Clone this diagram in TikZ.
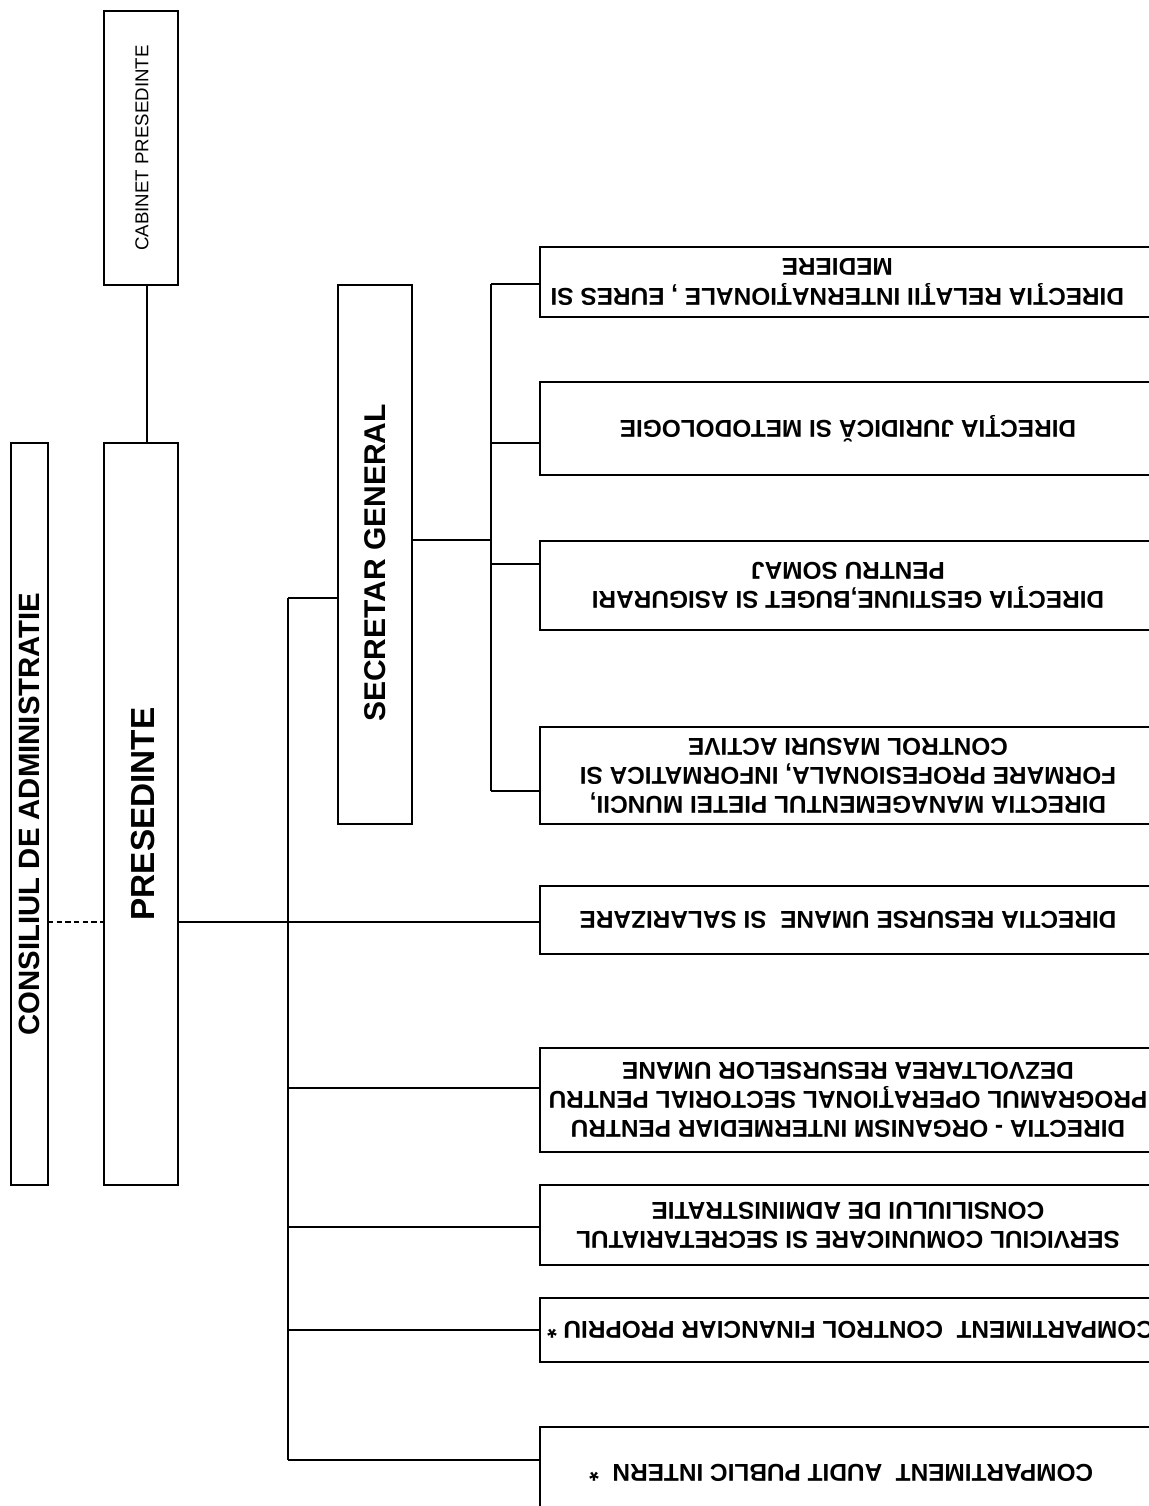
\documentclass[tikz,border=0pt]{standalone}
\usepackage{fontspec}
\setmainfont{Liberation Sans}
\begin{document}
\begin{tikzpicture}[x=0.75pt,y=-0.75pt,
  box/.style={draw,line width=1.5pt,inner sep=0pt,outer sep=0pt,fill=white},
  conn/.style={line width=1.3pt},
  rtxt/.style={rotate=180,align=center,inner sep=0pt,font=\bfseries\fontsize{18.3}{21.8}\selectfont},
  vtxt/.style={rotate=90,inner sep=0pt}]
\useasboundingbox (0,0) rectangle (1149,1506);
\clip (0,0) rectangle (1149,1506);
\fill[white] (0,0) rectangle (1149,1506);

% coordinates for connector lines
\coordinate (cx) at (147,0);
\coordinate (hy) at (0,922);
\coordinate (ttop) at (288,598);
\coordinate (tbot) at (288,1460);
\coordinate (b6) at (288,1088);
\coordinate (b7) at (288,1227);
\coordinate (b8) at (288,1330);
\coordinate (sgj) at (491,540);
\coordinate (s1) at (491,284);
\coordinate (s2) at (491,443);
\coordinate (s3) at (491,564);
\coordinate (s4) at (491,791);

% left boxes
\node[box,minimum width=74*0.75pt,minimum height=274*0.75pt] (cab) at (141,148) {};
\node[box,minimum width=74*0.75pt,minimum height=742*0.75pt] (pres) at (141,814) {};
\node[box,minimum width=37*0.75pt,minimum height=742*0.75pt] (cons) at (29.5,814) {};
\node[box,minimum width=74*0.75pt,minimum height=539*0.75pt] (sg) at (375,554.5) {};

\node[vtxt,font=\fontsize{14}{16}\selectfont] (cabt) at (142,148) {CABINET PRESEDINTE};
\node[vtxt,font=\bfseries\fontsize{25}{28}\selectfont] (prest) at (143,814) {PRESEDINTE};
\node[vtxt,font=\bfseries\fontsize{22}{25}\selectfont] (const) at (29.5,814) {CONSILIUL DE ADMINISTRATIE};
\node[vtxt,font=\bfseries\fontsize{22.5}{25}\selectfont] (sgt) at (375,563) {SECRETAR GENERAL};

% right boxes
\node[box,minimum width=616*0.75pt,minimum height=70*0.75pt] (r1) at (848,282) {};
\node[box,minimum width=616*0.75pt,minimum height=93*0.75pt] (r2) at (848,428.5) {};
\node[box,minimum width=616*0.75pt,minimum height=89*0.75pt] (r3) at (848,585.5) {};
\node[box,minimum width=616*0.75pt,minimum height=97*0.75pt] (r4) at (848,775.5) {};
\node[box,minimum width=616*0.75pt,minimum height=68*0.75pt] (r5) at (848,920) {};
\node[box,minimum width=616*0.75pt,minimum height=104*0.75pt] (r6) at (848,1100) {};
\node[box,minimum width=616*0.75pt,minimum height=80*0.75pt] (r7) at (848,1225) {};
\node[box,minimum width=616*0.75pt,minimum height=64*0.75pt] (r8) at (848,1330) {};
\node[box,minimum width=616*0.75pt,minimum height=92*0.75pt] (r9) at (848,1473) {};

\node[rtxt] (r1t) at ([xshift=-8]r1.center) {DIREC\char"0162IA RELA\char"0162II INTERNA\char"0162IONALE , EURES SI\\MEDIERE};
\node[rtxt] (r2t) at (r2) {DIREC\char"0162IA JURIDIC\char"0102{} SI METODOLOGIE};
\node[rtxt] (r3t) at (r3) {DIREC\char"0162IA GESTIUNE,BUGET SI ASIGURARI\\PENTRU SOMAJ};
\node[rtxt] (r4t) at (r4) {DIRECTIA MANAGEMENTUL PIETEI MUNCII,\\FORMARE PROFESIONALA, INFORMATICA SI\\CONTROL MASURI ACTIVE};
\node[rtxt] (r5t) at (r5) {DIRECTIA RESURSE UMANE\ \ SI SALARIZARE};
\node[rtxt] (r6t) at (r6) {DIRECTIA - ORGANISM INTERMEDIAR PENTRU\\PROGRAMUL OPERA\char"0162IONAL SECTORIAL PENTRU\\DEZVOLTAREA RESURSELOR UMANE};
\node[rtxt] (r7t) at (r7) {SERVICIUL COMUNICARE SI SECRETARIATUL\\CONSILIULUI DE ADMINISTRATIE};
\node[rtxt] (r8t) at ([xshift=2]r8.center) {COMPARTIMENT\ \ CONTROL FINANCIAR PROPRIU *};
\node[rtxt] (r9t) at ([xshift=-5]r9.center) {COMPARTIMENT\ \ AUDIT PUBLIC INTERN\ \ *};

% connectors
\draw[conn] (cab.south -| cx) -- (pres.north -| cx);
\draw[conn,dashed,dash pattern=on 4pt off 2.5pt] (cons.east |- hy) -- (pres.west |- hy);
\draw[conn] (pres.east |- hy) -- (r5.west |- hy);
\draw[conn] (ttop) -- (sg.west |- ttop);
\draw[conn] (ttop) -- (tbot);
\draw[conn] (b6) -- (r6.west |- b6);
\draw[conn] (b7) -- (r7.west |- b7);
\draw[conn] (b8) -- (r8.west |- b8);
\draw[conn] (tbot) -- (r9.west |- tbot);
\draw[conn] (sg.east |- sgj) -- (sgj);
\draw[conn] (s1) -- (s4);
\draw[conn] (s1) -- (r1.west |- s1);
\draw[conn] (s2) -- (r2.west |- s2);
\draw[conn] (s3) -- (r3.west |- s3);
\draw[conn] (s4) -- (r4.west |- s4);
\end{tikzpicture}
\end{document}
